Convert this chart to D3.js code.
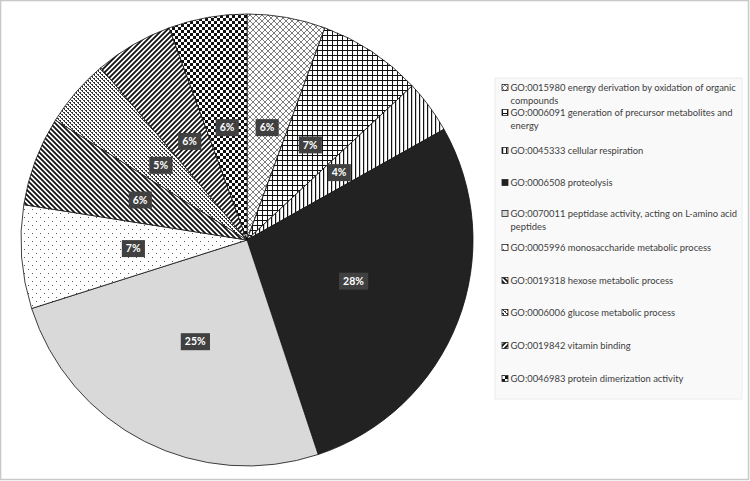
<!DOCTYPE html>
<html>
<head>
<meta charset="utf-8">
<script src="https://cdn.jsdelivr.net/npm/d3@7"></script>
<style>
  body { margin: 0; background: #fff; }
  svg { display: block; }
  .legend-text { font-family: Lato, "Open Sans", sans-serif; font-size: 10px; fill: #404040; }
  .pct { font-family: Lato, "Open Sans", sans-serif; font-size: 10.5px; font-weight: bold; fill: #fff; }
</style>
</head>
<body>
<div id="chart"></div>
<script>
// ---------- DATA ----------
const TERMS = [
  "GO:0015980 energy derivation by oxidation of organic compounds",
  "GO:0006091 generation of precursor metabolites and energy",
  "GO:0045333 cellular respiration",
  "GO:0006508 proteolysis",
  "GO:0070011 peptidase activity, acting on L-amino acid peptides",
  "GO:0005996 monosaccharide metabolic process",
  "GO:0019318 hexose metabolic process",
  "GO:0006006 glucose metabolic process",
  "GO:0019842 vitamin binding",
  "GO:0046983 protein dimerization activity"
];
// share of each term
const SHARES = [5.6, 7.45, 3.8, 28.05, 25.2, 7.4, 6.4, 4.9, 5.6, 5.6];
const PCT_LABELS = ["6%", "7%", "4%", "28%", "25%", "7%", "6%", "5%", "6%", "6%"];

// legend line breaks (as wrapped in the original)
const LEGEND_LINES = [
  ["GO:0015980 energy derivation by oxidation of organic", "compounds"],
  ["GO:0006091 generation of precursor metabolites and", "energy"],
  ["GO:0045333 cellular respiration"],
  ["GO:0006508 proteolysis"],
  ["GO:0070011 peptidase activity, acting on L-amino acid", "peptides"],
  ["GO:0005996 monosaccharide metabolic process"],
  ["GO:0019318 hexose metabolic process"],
  ["GO:0006006 glucose metabolic process"],
  ["GO:0019842 vitamin binding"],
  ["GO:0046983 protein dimerization activity"]
];

// ---------- SCAFFOLD ----------
const width = 750, height = 481;
const cx = 247, cy = 240, R = 226;

const svg = d3.select("#chart").append("svg")
  .attr("width", width)
  .attr("height", height);

// outer frame
svg.append("rect")
  .attr("x", 0.5).attr("y", 0.5)
  .attr("width", width - 2).attr("height", height - 2)
  .attr("fill", "#fff")
  .attr("stroke", "#c8c8c8")
  .attr("stroke-width", 1.5);

// ---------- PATTERNS ----------
const defs = svg.append("defs");

function pattern(id, size, draw, bg) {
  const p = defs.append("pattern")
    .attr("id", id)
    .attr("patternUnits", "userSpaceOnUse")
    .attr("width", size).attr("height", size);
  p.append("rect").attr("width", size).attr("height", size).attr("fill", bg || "#fff");
  draw(p);
  return `url(#${id})`;
}

const FILLS = [
  // diagonal cross
  pattern("p0", 6, p => {
    p.append("path").attr("d", "M0,0L6,6M6,0L0,6M-1,5L1,7M5,-1L7,1M-1,1L1,-1M5,7L7,5")
      .attr("stroke", "#444").attr("stroke-width", 0.7).attr("fill", "none");
  }),
  // grid
  pattern("p1", 5, p => {
    p.append("path").attr("d", "M0.5,0V5M0,0.5H5")
      .attr("stroke", "#111").attr("stroke-width", 1).attr("fill", "none");
  }),
  // vertical lines
  pattern("p2", 4, p => {
    p.append("rect").attr("x", 0).attr("y", 0).attr("width", 1.2).attr("height", 4).attr("fill", "#111");
  }),
  "#222222",
  "#d9d9d9",
  // sparse dots
  pattern("p5", 8, p => {
    p.append("rect").attr("x", 1).attr("y", 1).attr("width", 1).attr("height", 1).attr("fill", "#555");
    p.append("rect").attr("x", 5).attr("y", 5).attr("width", 1).attr("height", 1).attr("fill", "#555");
  }),
  // wide downward diagonal
  pattern("p6", 5, p => {
    p.append("path").attr("d", "M0,0L5,5M-1,4L1,6M4,-1L6,1")
      .attr("stroke", "#111").attr("stroke-width", 1.8).attr("fill", "none");
  }),
  // small confetti
  pattern("p7", 4, p => {
    [[0, 0, 2, 1], [2, 2, 2, 1], [1, 1, 1, 1], [3, 3, 1, 1]].forEach(([x, y, w, h]) => {
      p.append("rect").attr("x", x).attr("y", y).attr("width", w).attr("height", h).attr("fill", "#333");
    });
  }),
  // upward diagonal
  pattern("p8", 5, p => {
    p.append("path").attr("d", "M0,5L5,0M-1,1L1,-1M4,6L6,4")
      .attr("stroke", "#111").attr("stroke-width", 1.8).attr("fill", "none");
  }),
  // checkerboard
  pattern("p9", 6, p => {
    p.append("rect").attr("x", 0).attr("y", 0).attr("width", 3).attr("height", 3).attr("fill", "#111");
    p.append("rect").attr("x", 3).attr("y", 3).attr("width", 3).attr("height", 3).attr("fill", "#111");
  })
];

// ---------- PIE ----------
const slices = d3.pie().sort(null).value(d => d)(SHARES);
const arc = d3.arc().innerRadius(0).outerRadius(R);
const labelArc = d3.arc().innerRadius(R * 0.505).outerRadius(R * 0.505);

const g = svg.append("g").attr("transform", `translate(${cx},${cy})`);

g.selectAll(".slice")
  .data(slices)
  .join("path")
  .attr("class", "slice")
  .attr("d", arc)
  .attr("fill", (d, i) => FILLS[i])
  .attr("stroke", "#111")
  .attr("stroke-width", 0.8);

const lab = g.selectAll(".lab")
  .data(slices)
  .join("g")
  .attr("class", "lab")
  .attr("transform", d => `translate(${labelArc.centroid(d)})`);

lab.append("text")
  .attr("class", "pct")
  .attr("text-anchor", "middle")
  .attr("dy", "0.35em")
  .text((d, i) => PCT_LABELS[i]);

lab.each(function () {
  const t = d3.select(this).select("text");
  const bb = t.node().getBBox();
  d3.select(this).insert("rect", "text")
    .attr("x", bb.x - 4).attr("y", -8.5)
    .attr("width", bb.width + 8).attr("height", 17)
    .attr("fill", "#404040");
});

// ---------- LEGEND ----------
const legX = 495, legY = 78;
svg.append("rect")
  .attr("x", legX).attr("y", legY)
  .attr("width", 247).attr("height", 321)
  .attr("fill", "#f9f9f9")
  .attr("stroke", "#ececec");

// vertical position of each entry's first line
const LEG_ROWS = [88, 113, 151, 183, 214, 248, 281, 313, 346, 379];

const items = svg.selectAll(".leg")
  .data(TERMS)
  .join("g")
  .attr("class", "leg")
  .attr("transform", (d, i) => `translate(${legX + 7},${LEG_ROWS[i]})`);

items.append("rect")
  .attr("x", 0).attr("y", -3.5)
  .attr("width", 6).attr("height", 6)
  .attr("fill", (d, i) => FILLS[i])
  .attr("stroke", "#222")
  .attr("stroke-width", 0.8);

items.each(function (d, i) {
  d3.select(this).selectAll("text")
    .data(LEGEND_LINES[i])
    .join("text")
    .attr("class", "legend-text")
    .attr("x", 8.5)
    .attr("y", (l, j) => j * 13)
    .attr("dy", "0.35em")
    .text(l => l);
});

// fit the legend font so the longest line spans the legend width as in the original
const legendTexts = svg.selectAll(".legend-text");
const widest = d3.max(legendTexts.nodes(), n => n.getComputedTextLength());
legendTexts.style("font-size", `${10 * 227 / widest}px`);
</script>
</body>
</html>
